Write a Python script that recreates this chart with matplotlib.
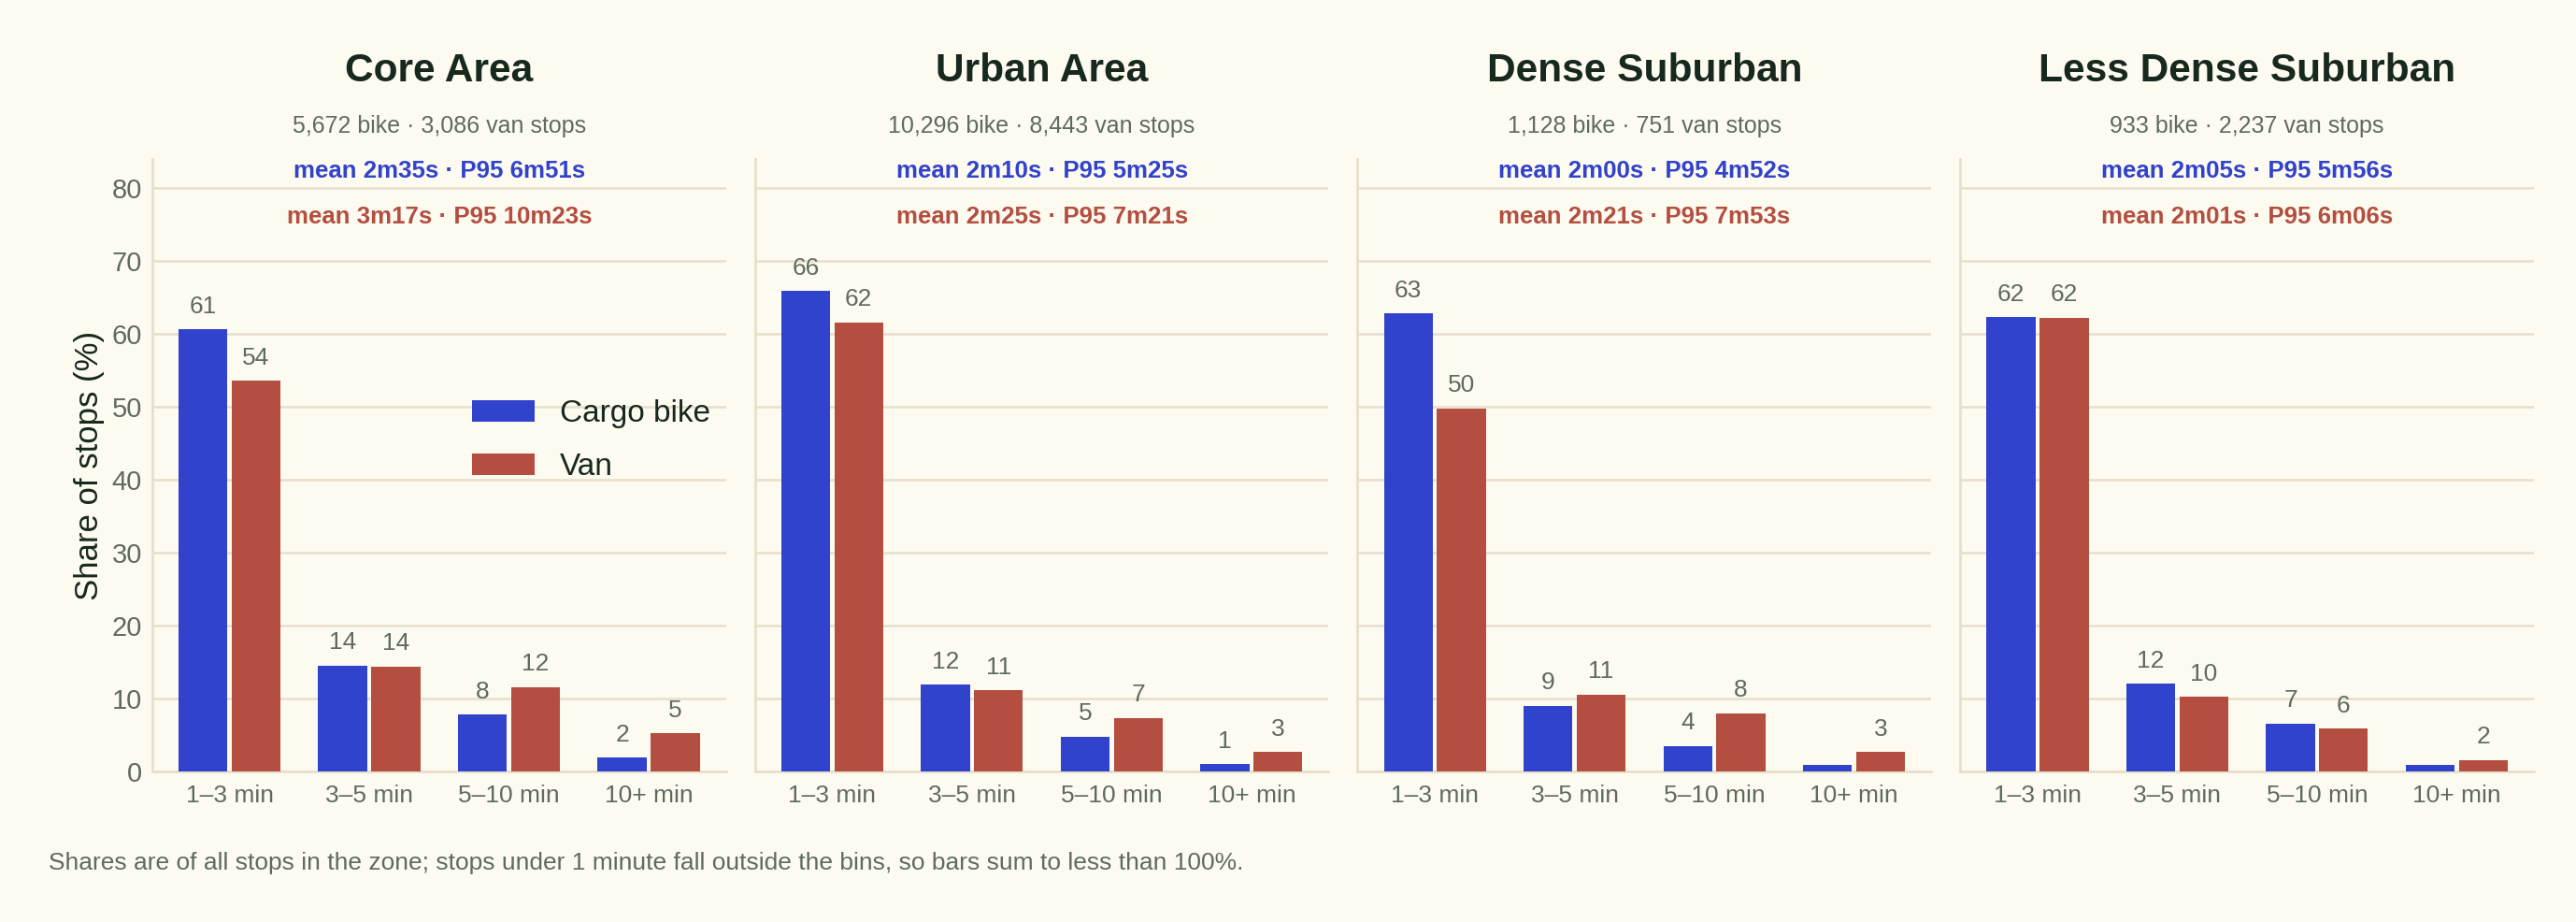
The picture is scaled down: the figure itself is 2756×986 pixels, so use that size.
import matplotlib
matplotlib.use("Agg")
import matplotlib.pyplot as plt
import numpy as np

plt.rcParams['font.family'] = ['Liberation Sans', 'DejaVu Sans']

zones = ["Core Area", "Urban Area", "Dense Suburban", "Less Dense Suburban"]
subtitles = ["5,672 bike · 3,086 van stops", "10,296 bike · 8,443 van stops",
             "1,128 bike · 751 van stops", "933 bike · 2,237 van stops"]
bike_stats = ["mean 2m35s · P95 6m51s", "mean 2m10s · P95 5m25s",
              "mean 2m00s · P95 4m52s", "mean 2m05s · P95 5m56s"]
van_stats = ["mean 3m17s · P95 10m23s", "mean 2m25s · P95 7m21s",
             "mean 2m21s · P95 7m53s", "mean 2m01s · P95 6m06s"]
bins = ["1–3 min", "3–5 min", "5–10 min", "10+ min"]
bike_core = [60.6, 14.5, 7.8, 1.9]
van_core = [53.6, 14.4, 11.55, 5.2]
bike_urban = [65.9, 11.9, 4.8, 1.02]
van_urban = [61.6, 11.1, 7.35, 2.65]
bike_dense = [62.8, 9.0, 3.5, 0.95]
van_dense = [49.8, 10.55, 8.0, 2.65]
bike_less = [62.3, 12.0, 6.6, 0.85]
van_less = [62.2, 10.2, 5.85, 1.55]
bike_vals = [bike_core, bike_urban, bike_dense, bike_less]
van_vals = [van_core, van_urban, van_dense, van_less]

BG = "#FDFBF0"
BLUE = "#3142CC"
RED = "#B34E40"
GRID = "#E6DFCC"
DARK = "#17281F"
MUTED = "#5E6B60"

fig, axes = plt.subplots(1, 4, figsize=(13.78, 4.93), dpi=200, sharey=True)
fig.patch.set_facecolor(BG)
fig.subplots_adjust(left=0.0591, right=0.9837, bottom=0.1633, top=0.8276, wspace=0.0505)

x = np.arange(len(bins))
w = 0.35
off = 0.19
for i, ax in enumerate(axes):
    ax.set_facecolor(BG)
    ax.set_axisbelow(True)
    ax.yaxis.grid(True, color=GRID, linewidth=0.9)
    ax.xaxis.grid(False)
    b1 = ax.bar(x - off, bike_vals[i], w, color=BLUE, label="Cargo bike", zorder=3)
    b2 = ax.bar(x + off, van_vals[i], w, color=RED, label="Van", zorder=3)
    for bars, vals in ((b1, bike_vals[i]), (b2, van_vals[i])):
        for r, v in zip(bars, vals):
            if v >= 1:
                ax.annotate(f"{v:.0f}", (r.get_x() + r.get_width() / 2, v),
                            xytext=(0, 4.5), textcoords="offset points",
                            ha="center", va="bottom", fontsize=9.5, color=MUTED)
    ax.set_xlim(-0.553, 3.553)
    ax.set_ylim(0, 84)
    ax.set_yticks(np.arange(0, 81, 10))
    ax.set_xticks(x)
    ax.set_xticklabels(bins)
    ax.tick_params(axis="x", length=0, pad=5, labelsize=9.5, labelcolor=MUTED)
    ax.tick_params(axis="y", length=0, pad=4, labelsize=10.5, labelcolor=MUTED)
    for s in ("top", "right"):
        ax.spines[s].set_visible(False)
    for s in ("left", "bottom"):
        ax.spines[s].set_color(GRID)
        ax.spines[s].set_linewidth(1.0)
    tr = ax.transAxes
    ax.text(0.5, 1.126, zones[i], transform=tr, ha="center", va="baseline",
            fontsize=15.3, fontweight="bold", color=DARK)
    ax.text(0.5, 1.043, subtitles[i], transform=tr, ha="center", va="baseline",
            fontsize=9, color=MUTED)
    ax.text(0.5, 0.9695, bike_stats[i], transform=tr, ha="center", va="baseline",
            fontsize=9.3, fontweight="bold", color=BLUE)
    ax.text(0.5, 0.8947, van_stats[i], transform=tr, ha="center", va="baseline",
            fontsize=9.3, fontweight="bold", color=RED)

axes[0].set_ylabel("Share of stops (%)", fontsize=12.5, color=DARK)
axes[0].yaxis.set_label_coords(-0.083, 0.5)
axes[0].legend(loc="upper left", bbox_to_anchor=(0.536, 0.628), borderaxespad=0,
               frameon=False, fontsize=12, labelcolor=DARK, handlelength=2.0,
               handleheight=0.7, labelspacing=0.78)

fig.text(0.019, 0.057, "Shares are of all stops in the zone; stops under 1 minute fall outside the bins, "
         "so bars sum to less than 100%.", ha="left", va="baseline", fontsize=9.5, color=MUTED)

fig.savefig("out.png", dpi=200, facecolor=BG)
